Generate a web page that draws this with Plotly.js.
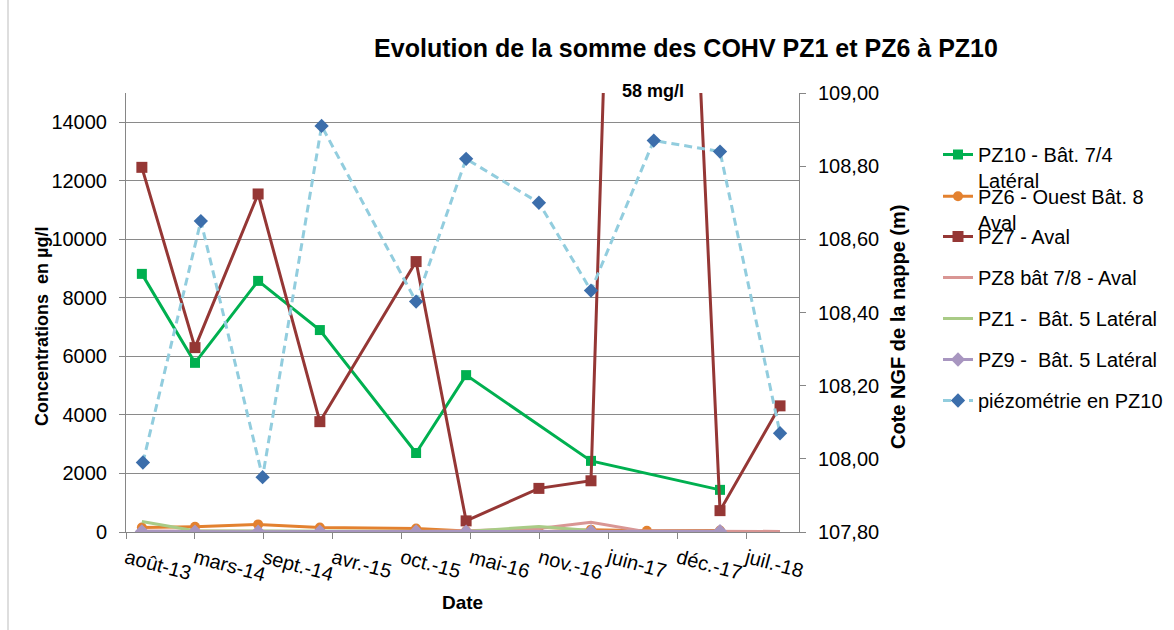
<!DOCTYPE html>
<html>
<head>
<meta charset="utf-8">
<script src="https://cdn.plot.ly/plotly-3.0.1.min.js"></script>
<style>html,body{margin:0;padding:0;background:#fff;}#chart{width:1174px;height:630px;}</style>
</head>
<body>
<div id="chart"></div>
<script>
// ---- Data ----
const tickDates = ['2013-08-14','2014-03-02','2014-09-18','2015-04-06','2015-10-23','2016-05-10','2016-11-26','2017-06-14','2017-12-31','2018-07-19'];
const tickLabels = ['août-13','mars-14','sept.-14','avr.-15','oct.-15','mai-16','nov.-16','juin-17','déc.-17','juil.-18'];

const pz10Dates = ['2013-09-29','2014-03-02','2014-09-01','2015-02-27','2015-12-03','2016-04-26','2017-04-23','2018-05-02'];
const pz10Values = [8820, 5780, 8580, 6900, 2700, 5360, 2430, 1440];

const pz6Dates = ['2013-09-29','2014-03-02','2014-09-01','2015-02-27','2015-12-03','2016-04-26','2016-11-23','2017-04-23','2017-10-02','2018-05-02'];
const pz6Values = [150, 180, 260, 150, 120, 30, 10, 80, 40, 50];

const pz7Dates = ['2013-09-29','2014-03-02','2014-09-01','2015-02-27','2015-12-03','2016-04-26','2016-11-23','2017-04-23','2017-09-21','2018-05-02','2018-10-23'];
const pz7Values = [12460, 6300, 11550, 3770, 9240, 380, 1490, 1750, 58000, 730, 4310];

const pz8Dates = ['2013-09-29','2014-03-02','2014-09-01','2015-02-27','2015-12-03','2016-04-26','2016-11-23','2017-04-23','2017-09-21','2018-05-02','2018-10-23'];
const pz8Values = [30, 20, 20, 20, 20, 40, 120, 330, 30, 30, 20];

const pz1Dates = ['2013-09-29','2014-03-02','2014-09-01','2015-02-27','2015-12-03','2016-04-26','2016-11-23','2017-04-23'];
const pz1Values = [360, 40, 30, 20, 30, 20, 190, 50];

const pz9Dates = ['2013-09-29','2014-03-02','2014-09-01','2015-02-27','2015-12-03','2016-04-26','2017-04-23','2018-05-02'];
const pz9Values = [20, 10, 10, 15, 20, 15, 20, 25];

const piezoDates = ['2013-10-02','2014-03-19','2014-09-14','2015-03-04','2015-12-03','2016-04-26','2016-11-23','2017-04-23','2017-10-22','2018-05-02','2018-10-23'];
const piezoValues = [107.99, 108.65, 107.95, 108.91, 108.43, 108.82, 108.70, 108.46, 108.87, 108.84, 108.07];

const seriesNames = ['PZ10 - Bât. 7/4<br>Latéral','PZ6 - Ouest Bât. 8<br>Aval','PZ7 - Aval','PZ8 bât 7/8 - Aval','PZ1 -\u00A0 Bât. 5 Latéral','PZ9 -\u00A0 Bât. 5 Latéral','piézométrie en PZ10'];

// ---- Chart ----
const FONT = 'Liberation Sans, Arial, sans-serif';
const traces = [
  {x: pz10Dates, y: pz10Values, name: seriesNames[0], legend: 'legend', mode: 'lines+markers',
   line: {color: '#00B050', width: 3}, marker: {symbol: 'square', size: 10, color: '#00B050'}},
  {x: pz6Dates, y: pz6Values, name: seriesNames[1], legend: 'legend2', mode: 'lines+markers',
   line: {color: '#E3812F', width: 3}, marker: {symbol: 'circle', size: 10, color: '#E3812F'}},
  {x: pz7Dates, y: pz7Values, name: seriesNames[2], legend: 'legend3', mode: 'lines+markers',
   line: {color: '#953735', width: 3}, marker: {symbol: 'square', size: 11, color: '#953735'}},
  {x: pz8Dates, y: pz8Values, name: seriesNames[3], legend: 'legend4', mode: 'lines',
   line: {color: '#D99694', width: 3}},
  {x: pz1Dates, y: pz1Values, name: seriesNames[4], legend: 'legend5', mode: 'lines',
   line: {color: '#A9CB86', width: 3}},
  {x: pz9Dates, y: pz9Values, name: seriesNames[5], legend: 'legend6', mode: 'lines+markers',
   line: {color: '#A896C0', width: 3}, marker: {symbol: 'diamond', size: 11, color: '#A896C0'}},
  {x: piezoDates, y: piezoValues, name: seriesNames[6], legend: 'legend7', yaxis: 'y2', mode: 'lines+markers',
   line: {color: '#92CDDE', width: 3, dash: '8px,5px'}, marker: {symbol: 'diamond', size: 11, color: '#3C6EAB'}}
];

const PLOT_T = 93, PLOT_B = 532, PLOT_L = 126, PLOT_R = 799;
const PH = PLOT_B - PLOT_T, PW = PLOT_R - PLOT_L;
const legendCenters = [155, 196.7, 237, 278, 319, 360, 401];
const legendKeys = ['legend','legend2','legend3','legend4','legend5','legend6','legend7'];

const layout = {
  width: 1174, height: 630,
  margin: {l: PLOT_L, r: 1174 - PLOT_R, t: PLOT_T, b: 630 - PLOT_B, pad: 0, autoexpand: false},
  paper_bgcolor: '#fff', plot_bgcolor: '#fff',
  separators: ', ',
  font: {family: FONT, size: 20, color: '#000'},
  title: {text: '<b>Evolution de la somme des COHV PZ1 et PZ6 à PZ10</b>', font: {size: 25, family: FONT, color: '#000'},
          xref: 'container', yref: 'container', x: 686 / 1174, xanchor: 'center', y: 1 - 48 / 630, yanchor: 'middle'},
  xaxis: {
    type: 'date', range: ['2013-08-14', '2018-12-17'],
    tickmode: 'array', tickvals: tickDates, ticktext: tickLabels, tickangle: 15,
    ticks: 'outside', ticklen: 6, tickcolor: '#868686', tickwidth: 1,
    showline: true, linecolor: '#868686', linewidth: 1, showgrid: false, zeroline: false,
    tickfont: {size: 20, color: '#000'},
    title: {text: '<b>Date</b>', font: {size: 19, color: '#000'}, standoff: 11}
  },
  yaxis: {
    range: [0, 15000], tick0: 0, dtick: 2000, tickformat: 'd',
    showgrid: true, gridcolor: '#8a8a8a', gridwidth: 1,
    showline: true, linecolor: '#868686', linewidth: 1, zeroline: false,
    ticks: 'outside', ticklen: 6, tickcolor: '#868686', ticklabelstandoff: 8,
    tickfont: {size: 20, color: '#000'}
  },
  yaxis2: {
    overlaying: 'y', side: 'right', range: [107.8, 109.0], tick0: 107.8, dtick: 0.2, tickformat: '.2f',
    showgrid: false, zeroline: false, showline: true, linecolor: '#868686', linewidth: 1,
    ticks: 'outside', ticklen: 6, tickcolor: '#868686', ticklabelstandoff: 8,
    tickfont: {size: 20, color: '#000'}
  },
  annotations: [
    {text: '<b>58 mg/l</b>', xref: 'paper', yref: 'paper', x: (653 - PLOT_L) / PW, y: (PLOT_B - 91) / PH,
     xanchor: 'center', yanchor: 'middle', showarrow: false, font: {size: 18, color: '#000'}},
    {text: '<b>Concentrations\u00A0 en µg/l</b>', xref: 'paper', yref: 'paper', x: (42 - PLOT_L) / PW, y: (PLOT_B - 327) / PH,
     xanchor: 'center', yanchor: 'middle', textangle: -90, showarrow: false, font: {size: 18, color: '#000'}},
    {text: '<b>Cote NGF de la nappe (m)</b>', xref: 'paper', yref: 'paper', x: (898 - PLOT_L) / PW, y: (PLOT_B - 327) / PH,
     xanchor: 'center', yanchor: 'middle', textangle: -90, showarrow: false, font: {size: 20, color: '#000'}}
  ],
  shapes: [
    {type: 'line', xref: 'paper', yref: 'paper', x0: (8 - PLOT_L) / PW, x1: (8 - PLOT_L) / PW,
     y0: (PLOT_B - 630) / PH, y1: PLOT_B / PH, line: {color: '#bdbdbd', width: 1}}
  ],
  showlegend: true
};

legendKeys.forEach((k, i) => {
  layout[k] = {
    x: (938 - PLOT_L) / PW, xanchor: 'left',
    y: (PLOT_B - (legendCenters[i] - 20)) / PH, yanchor: 'top',
    valign: 'top', bgcolor: 'rgba(0,0,0,0)', borderwidth: 0,
    font: {size: 20, family: FONT, color: '#000'}
  };
});

Plotly.newPlot('chart', traces, layout, {displayModeBar: false, staticPlot: true});
</script>
</body>
</html>
